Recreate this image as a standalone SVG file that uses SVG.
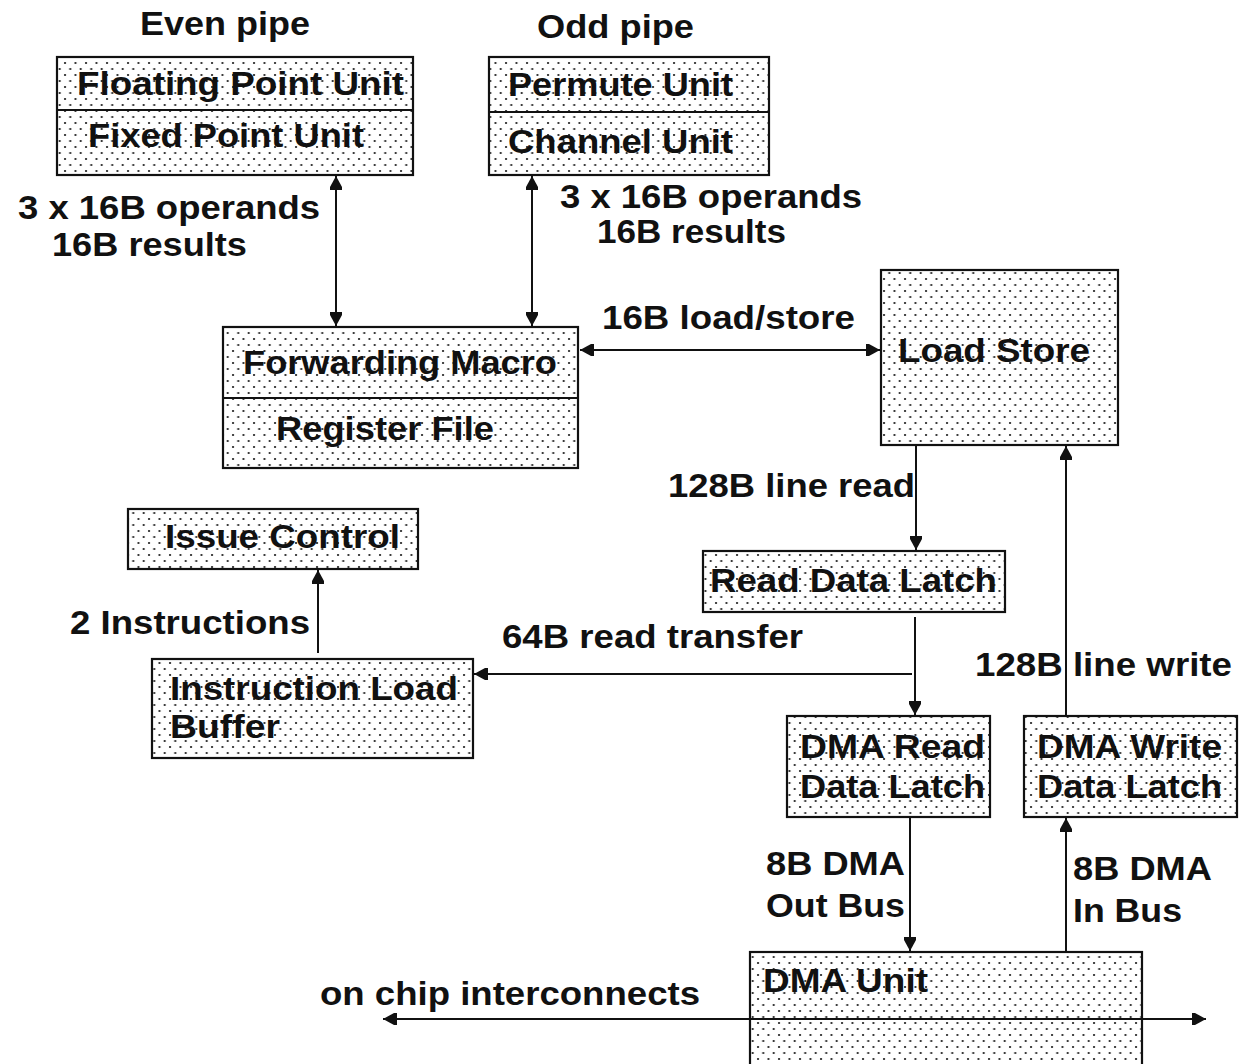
<svg xmlns="http://www.w3.org/2000/svg" width="1239" height="1064" viewBox="0 0 1239 1064">
<style>
text{font-family:"Liberation Sans",Arial,sans-serif;font-weight:bold;font-size:33px;fill:#111}
.box{fill:url(#dots);stroke:#111;stroke-width:2.2}
.div{stroke:#111;stroke-width:2.2}
.c{fill:none;stroke:#111;stroke-width:2}
</style>
<defs>
<pattern id="dots" patternUnits="userSpaceOnUse" width="10.5" height="12">
<rect width="10.5" height="12" fill="#fff"/>
<circle cx="2" cy="3" r="1.1" fill="#111"/>
<circle cx="7.25" cy="9" r="1.1" fill="#111"/>
</pattern>
<marker id="ah" viewBox="0 0 14 14" refX="14" refY="7" markerWidth="14" markerHeight="14" orient="auto-start-reverse" markerUnits="userSpaceOnUse">
<path d="M0,1 L3,1 L14,7 L3,13 L0,13 Z" fill="#111"/>
</marker>
</defs>
<rect width="1239" height="1064" fill="#fff"/>

<text x="140" y="35" textLength="170" lengthAdjust="spacingAndGlyphs">Even pipe</text>
<text x="537" y="38" textLength="157" lengthAdjust="spacingAndGlyphs">Odd pipe</text>

<g id="even">
<rect class="box" x="57" y="57" width="356" height="118"/>
<line class="div" x1="57" y1="110" x2="413" y2="110"/>
<text x="77" y="95" textLength="327" lengthAdjust="spacingAndGlyphs">Floating Point Unit</text>
<text x="88" y="147" textLength="276" lengthAdjust="spacingAndGlyphs">Fixed Point Unit</text>
</g>
<g id="odd">
<rect class="box" x="489" y="57" width="280" height="118"/>
<line class="div" x1="489" y1="112" x2="769" y2="112"/>
<text x="508" y="96" textLength="225" lengthAdjust="spacingAndGlyphs">Permute Unit</text>
<text x="508" y="153" textLength="225" lengthAdjust="spacingAndGlyphs">Channel Unit</text>
</g>
<g id="fwd">
<rect class="box" x="223" y="327" width="355" height="141"/>
<line class="div" x1="223" y1="398" x2="578" y2="398"/>
<text x="243" y="374" textLength="314" lengthAdjust="spacingAndGlyphs">Forwarding Macro</text>
<text x="276" y="440" textLength="218" lengthAdjust="spacingAndGlyphs">Register File</text>
</g>
<g id="loadstore">
<rect class="box" x="881" y="270" width="237" height="175"/>
<text x="898" y="362" textLength="192" lengthAdjust="spacingAndGlyphs">Load Store</text>
</g>
<g id="issue">
<rect class="box" x="128" y="509" width="290" height="60"/>
<text x="165" y="548" textLength="235" lengthAdjust="spacingAndGlyphs">Issue Control</text>
</g>
<g id="ilb">
<rect class="box" x="152" y="659" width="321" height="99"/>
<text x="170" y="700" textLength="288" lengthAdjust="spacingAndGlyphs">Instruction Load</text>
<text x="170" y="738" textLength="110" lengthAdjust="spacingAndGlyphs">Buffer</text>
</g>
<g id="rdl">
<rect class="box" x="703" y="551" width="302" height="61"/>
<text x="710" y="592" textLength="287" lengthAdjust="spacingAndGlyphs">Read Data Latch</text>
</g>
<g id="dmar">
<rect class="box" x="787" y="716" width="203" height="101"/>
<text x="800" y="758" textLength="185" lengthAdjust="spacingAndGlyphs">DMA Read</text>
<text x="800" y="798" textLength="185" lengthAdjust="spacingAndGlyphs">Data Latch</text>
</g>
<g id="dmaw">
<rect class="box" x="1024" y="716" width="213" height="101"/>
<text x="1037" y="758" textLength="185" lengthAdjust="spacingAndGlyphs">DMA Write</text>
<text x="1037" y="798" textLength="185" lengthAdjust="spacingAndGlyphs">Data Latch</text>
</g>
<g id="dmau">
<rect class="box" x="750" y="952" width="392" height="130"/>
<text x="763" y="992" textLength="165" lengthAdjust="spacingAndGlyphs">DMA Unit</text>
</g>

<g id="connectors">
<line class="c" x1="336" y1="176" x2="336" y2="326" marker-start="url(#ah)" marker-end="url(#ah)"/>
<line class="c" x1="532" y1="176" x2="532" y2="326" marker-start="url(#ah)" marker-end="url(#ah)"/>
<line class="c" x1="580" y1="350" x2="880" y2="350" marker-start="url(#ah)" marker-end="url(#ah)"/>
<line class="c" x1="916" y1="446" x2="916" y2="550" marker-end="url(#ah)"/>
<line class="c" x1="915" y1="617" x2="915" y2="715" marker-end="url(#ah)"/>
<line class="c" x1="912" y1="674" x2="474" y2="674" marker-end="url(#ah)"/>
<line class="c" x1="318" y1="653" x2="318" y2="570" marker-end="url(#ah)"/>
<line class="c" x1="1066" y1="716" x2="1066" y2="446" marker-end="url(#ah)"/>
<line class="c" x1="910" y1="817" x2="910" y2="951" marker-end="url(#ah)"/>
<line class="c" x1="1066" y1="952" x2="1066" y2="818" marker-end="url(#ah)"/>
<line class="c" x1="383" y1="1019" x2="1206" y2="1019" marker-start="url(#ah)" marker-end="url(#ah)"/>
<text x="18" y="219" textLength="302" lengthAdjust="spacingAndGlyphs">3 x 16B operands</text>
<text x="52" y="256" textLength="195" lengthAdjust="spacingAndGlyphs">16B results</text>
<text x="560" y="208" textLength="302" lengthAdjust="spacingAndGlyphs">3 x 16B operands</text>
<text x="597" y="243" textLength="189" lengthAdjust="spacingAndGlyphs">16B results</text>
<text x="602" y="329" textLength="253" lengthAdjust="spacingAndGlyphs">16B load/store</text>
<text x="668" y="497" textLength="247" lengthAdjust="spacingAndGlyphs">128B line read</text>
<text x="70" y="634" textLength="240" lengthAdjust="spacingAndGlyphs">2 Instructions</text>
<text x="502" y="648" textLength="301" lengthAdjust="spacingAndGlyphs">64B read transfer</text>
<text x="975" y="676" textLength="257" lengthAdjust="spacingAndGlyphs">128B line write</text>
<text x="766" y="875" textLength="139" lengthAdjust="spacingAndGlyphs">8B DMA</text>
<text x="766" y="917" textLength="139" lengthAdjust="spacingAndGlyphs">Out Bus</text>
<text x="1073" y="880" textLength="139" lengthAdjust="spacingAndGlyphs">8B DMA</text>
<text x="1073" y="922" textLength="109" lengthAdjust="spacingAndGlyphs">In Bus</text>
<text x="320" y="1005" textLength="380" lengthAdjust="spacingAndGlyphs">on chip interconnects</text>
</g>
</svg>
